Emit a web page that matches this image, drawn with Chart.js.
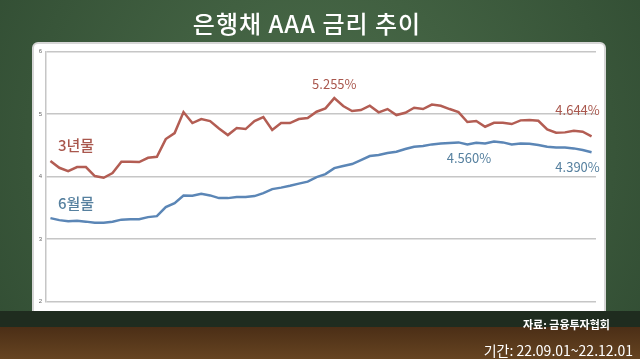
<!DOCTYPE html>
<html>
<head>
<meta charset="utf-8">
<script src="https://cdn.jsdelivr.net/npm/chart.js@4"></script>
<style>
  body { margin: 0; background: #3b5a3c; }
  #wrap { position: relative; width: 640px; height: 359px; overflow: hidden; }
  #grafik { position: absolute; left: 0; top: 0; }
  .txt { position: absolute; color: #fff; font-family: "Noto Sans CJK KR", sans-serif; white-space: nowrap; }
  #judul { left: 0; width: 614px; top: 5px; text-align: center; font-size: 24px; font-weight: 500; letter-spacing: 1px; }
  #sumber { right: 30px; top: 316px; font-size: 11px; font-weight: 700; }
  #periode { right: 7px; top: 340px; font-size: 14px; }
</style>
</head>
<body>
<div id="wrap">
  <canvas id="grafik" width="640" height="359"></canvas>
  <div class="txt" id="judul">은행채 AAA 금리 추이</div>
  <div class="txt" id="sumber">자료: 금융투자협회</div>
  <div class="txt" id="periode">기간: 22.09.01~22.12.01</div>
</div>
<script>
// 22.09.01 ~ 22.12.01 daily points
const labelHari = [];
for (let i = 0; i < 62; i++) labelHari.push(String(i + 1));

const nilai3Tahun = [
  4.248, 4.141, 4.088, 4.152, 4.152, 4.008, 3.981, 4.056, 4.237, 4.237,
  4.232, 4.301, 4.317, 4.600, 4.696, 5.032, 4.856, 4.920, 4.888, 4.768,
  4.664, 4.776, 4.760, 4.888, 4.952, 4.744, 4.856, 4.856, 4.920, 4.936,
  5.037, 5.091, 5.255, 5.128, 5.048, 5.064, 5.133, 5.027, 5.080, 4.984,
  5.021, 5.101, 5.080, 5.152, 5.133, 5.080, 5.032, 4.872, 4.888, 4.797,
  4.861, 4.861, 4.840, 4.899, 4.904, 4.893, 4.755, 4.701, 4.707, 4.733,
  4.717, 4.644
];

const nilai6Bulan = [
  3.336, 3.304, 3.288, 3.293, 3.280, 3.261, 3.261, 3.277, 3.312, 3.320,
  3.320, 3.352, 3.368, 3.512, 3.576, 3.696, 3.693, 3.725, 3.699, 3.656,
  3.656, 3.672, 3.672, 3.688, 3.736, 3.800, 3.824, 3.853, 3.888, 3.920,
  3.992, 4.040, 4.136, 4.168, 4.200, 4.264, 4.328, 4.344, 4.376, 4.397,
  4.440, 4.477, 4.488, 4.515, 4.531, 4.539, 4.547, 4.515, 4.541, 4.531,
  4.560, 4.547, 4.515, 4.531, 4.525, 4.504, 4.477, 4.467, 4.467, 4.451,
  4.424, 4.390
];

const tickY = [2, 3, 4, 5, 6];

const warnaMerah = '#b35d53';
const warnaBiru = '#5b86b6';

// label text: [series, index, text, dx, dy]
const labelNilai = [
  [0, 32, '5.255%', 0, -14],
  [0, 61, '4.644%', -14, -26],
  [1, 50, '4.560%', -25, 16],
  [1, 61, '4.390%', -14, 15]
];

const latarPlugin = {
  id: 'latar',
  beforeDraw(chart) {
    const c = chart.ctx;
    c.save();
    const g = c.createRadialGradient(320, 150, 40, 320, 150, 420);
    g.addColorStop(0, '#4a6b49');
    g.addColorStop(1, '#2f4a31');
    c.fillStyle = g;
    c.fillRect(0, 0, 640, 312);
    // white board
    c.fillStyle = '#ffffff';
    c.strokeStyle = '#d6d6d6';
    c.lineWidth = 2;
    c.beginPath();
    c.roundRect(33, 43, 572, 290, 5);
    c.fill();
    c.stroke();
    // shelf
    c.fillStyle = '#1f2c1f';
    c.fillRect(0, 311, 640, 16);
    const b = c.createLinearGradient(0, 327, 0, 359);
    b.addColorStop(0, '#4b2e16');
    b.addColorStop(1, '#664421');
    c.fillStyle = b;
    c.fillRect(0, 327, 640, 32);
    c.restore();
  },
  afterDatasetsDraw(chart) {
    const c = chart.ctx;
    const x = chart.scales.x;
    const y = chart.scales.y;
    c.save();
    c.font = '13px "Noto Sans CJK KR", sans-serif';
    c.textAlign = 'center';
    c.textBaseline = 'middle';
    labelNilai.forEach(l => {
      const ds = chart.data.datasets[l[0]];
      c.fillStyle = l[0] === 0 ? '#a9574d' : '#56809f';
      c.fillText(l[2], x.getPixelForValue(l[1]) + l[3], y.getPixelForValue(ds.data[l[1]]) + l[4]);
    });
    c.font = '500 15px "Noto Sans CJK KR", sans-serif';
    c.fillStyle = '#a9574d';
    c.fillText(chart.data.datasets[0].label, x.left + 30, y.getPixelForValue(4.5));
    c.fillStyle = '#56809f';
    c.fillText(chart.data.datasets[1].label, x.left + 30, y.getPixelForValue(3.57));
    c.restore();
  }
};

new Chart(document.getElementById('grafik'), {
  type: 'line',
  data: {
    labels: labelHari,
    datasets: [
      {
        label: '3년물',
        data: nilai3Tahun,
        borderColor: warnaMerah,
        borderWidth: 2.5,
        pointRadius: 0,
        tension: 0
      },
      {
        label: '6월물',
        data: nilai6Bulan,
        borderColor: warnaBiru,
        borderWidth: 2.5,
        pointRadius: 0,
        tension: 0
      }
    ]
  },
  options: {
    responsive: false,
    animation: false,
    layout: { padding: { left: 33, right: 44, top: 51.5, bottom: 57.3 } },
    plugins: { legend: { display: false }, tooltip: { enabled: false } },
    scales: {
      x: {
        offset: true,
        grid: { display: false },
        border: { display: false },
        ticks: { display: false },
        afterFit(s) { s.height = 0; }
      },
      y: {
        min: 2,
        max: 6,
        afterBuildTicks(s) { s.ticks = tickY.map(v => ({ value: v })); },
        afterFit(s) { s.width = 13; },
        grid: { color: '#c6c6c6', lineWidth: 1.5, drawTicks: false },
        border: { display: true, color: '#c6c6c6', width: 1.5 },
        ticks: { padding: 4, color: '#666', font: { size: 6 } }
      }
    }
  },
  plugins: [latarPlugin]
});
</script>
</body>
</html>
